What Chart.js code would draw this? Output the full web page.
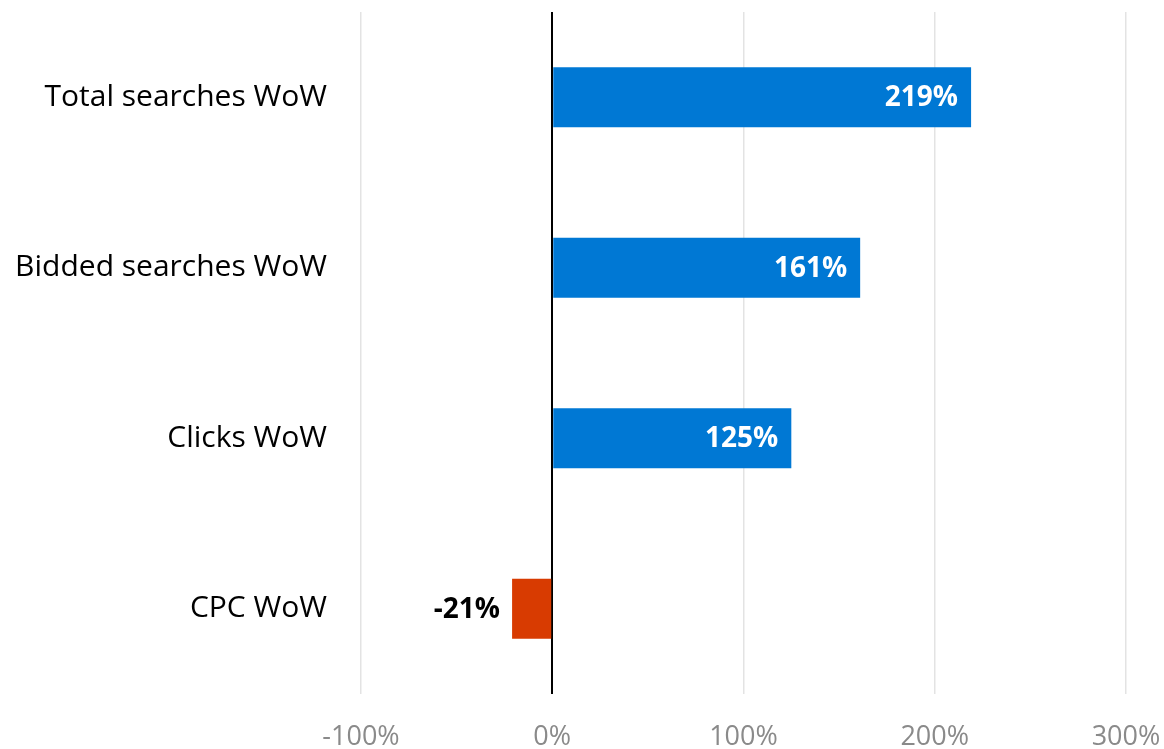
<!DOCTYPE html>
<html>
<head>
<meta charset="utf-8">
<script src="https://cdn.jsdelivr.net/npm/chart.js@4/dist/chart.umd.min.js"></script>
<style>
  html, body { margin: 0; padding: 0; background: #fff; }
  #wrap { width: 1164px; height: 749px; }
</style>
</head>
<body>
<div id="wrap"><canvas id="grafico"></canvas></div>
<script>
const categorias = ["Total searches WoW", "Bidded searches WoW", "Clicks WoW", "CPC WoW"];
const valores = [219, 161, 125, -21];
const ticksX = [-100, 0, 100, 200, 300];

const FUENTE = "'Open Sans', 'Noto Sans', sans-serif";

// etiquetas de valor sobre las barras
const etiquetasPlugin = {
  id: "etiquetas",
  afterDatasetsDraw(chart) {
    const ctx = chart.ctx;
    const meta = chart.getDatasetMeta(0);
    ctx.save();
    ctx.font = "bold 28px " + FUENTE;
    ctx.textBaseline = "middle";
    ctx.textAlign = "right";
    meta.data.forEach((bar, i) => {
      const v = valores[i];
      const texto = v + "%";
      if (v >= 0) {
        ctx.fillStyle = "#ffffff";
        ctx.fillText(texto, bar.x - 13, bar.y + 1);
      } else {
        ctx.fillStyle = "#000000";
        ctx.fillText(texto, bar.x - 12, bar.y + 1);
      }
    });
    ctx.restore();
  }
};

function sinPadding(scale) {
  scale.paddingTop = 0;
  scale.paddingBottom = 0;
  scale.paddingLeft = 0;
  scale.paddingRight = 0;
}

new Chart(document.getElementById("grafico"), {
  type: "bar",
  data: {
    labels: categorias,
    datasets: [{
      data: valores,
      backgroundColor: valores.map(v => v >= 0 ? "#0078d4" : "#d83b01"),
      barPercentage: 0.352,
      categoryPercentage: 1
    }]
  },
  options: {
    indexAxis: "y",
    responsive: true,
    maintainAspectRatio: false,
    animation: false,
    layout: { padding: { top: 12, right: 38, left: 0, bottom: 0 } },
    plugins: {
      legend: { display: false },
      tooltip: { enabled: false }
    },
    scales: {
      x: {
        min: -100,
        max: 300,
        afterBuildTicks: (scale) => {
          scale.ticks = ticksX.map(v => ({ value: v }));
        },
        afterFit: (scale) => { scale.height = 55; sinPadding(scale); },
        border: { display: false },
        grid: {
          drawTicks: false,
          color: (c) => c.tick && c.tick.value === 0 ? "#000000" : "#e3e3e3",
          lineWidth: (c) => c.tick && c.tick.value === 0 ? 2 : 1.5
        },
        ticks: {
          padding: 27,
          color: "#8a8a8a",
          font: { family: FUENTE, size: 27 },
          callback: (v) => v + "%"
        }
      },
      y: {
        afterFit: (scale) => { scale.width = 361; sinPadding(scale); },
        border: { display: false },
        grid: { display: false, drawTicks: false },
        ticks: {
          padding: 34,
          color: "#000000",
          font: { family: FUENTE, size: 30 }
        }
      }
    }
  },
  plugins: [etiquetasPlugin]
});
</script>
</body>
</html>
